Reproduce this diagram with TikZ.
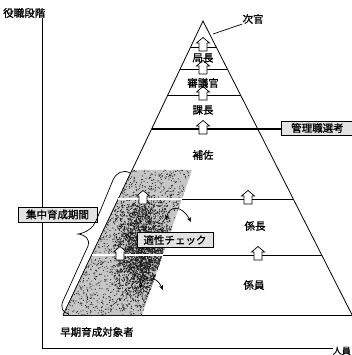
\documentclass[tikz,border=0pt]{standalone}
\usepackage{fontspec}
\setmainfont{Noto Sans CJK JP}[FakeBold=1.2]
\usetikzlibrary{arrows.meta}
\tikzset{
  lbl/.style={inner sep=0pt, font=\fontsize{10.5}{12}\selectfont},
  stipbox/.style={draw, line width=0.8pt, fill=gray!22, inner xsep=3pt, inner ysep=2pt, font=\fontsize{10.5}{12}\selectfont},
  level/.style={line width=0.8pt},
  uparr/.pic={\draw[fill=white, line width=0.7pt] (-4,5) -- (-4,-3) -- (-6.5,-3) -- (0,-8.5) -- (6.5,-3) -- (4,-3) -- (4,5) -- cycle;},
  dbl/.style={line width=0.7pt, {Stealth[length=5pt,width=4pt]}-{Stealth[length=5pt,width=4pt]}}
}
\begin{document}
\begin{tikzpicture}[x=1pt,y=-1pt]
\useasboundingbox (0,0) rectangle (351,355);
% axes
\node[lbl, anchor=west] (yl) at (3,13) {役職段階};
\node[lbl, anchor=south east, font=\fontsize{9}{10}\selectfont] (xl) at (351,355) {人員};
\coordinate (ytop) at (42.5,18);
\coordinate (orig) at (42.5,348.5);
\coordinate (xend) at (xl.west |- orig);
\draw[line width=1pt] (ytop) -- (orig) -- (xend);
% pyramid
\coordinate (apex) at (203,21);
\coordinate (bl) at (63.1,315);
\coordinate (br) at (352.1,315);
\draw[line width=0.8pt] (bl) -- (apex) -- (br);
\draw[line width=1pt] (bl) -- (br);
% level lines
\draw[level] (190.6,47) -- (216.2,47);
\draw[level] (180.2,69) -- (227.3,69);
\draw[level] (167.8,95) -- (240.5,95);
\node[stipbox, minimum height=14pt, minimum width=72pt, anchor=west] (kanri) at (281,128) {管理職選考};
\draw[line width=1.7pt] (151.6,129) -- (kanri.west |- 0,129);
\draw[line width=1pt] (182,199) -- (293.2,199);
\draw[line width=1pt] (162.7,255) -- (321.6,255);
% band
\coordinate (b1) at (132.1,170);
\coordinate (b2) at (192,170);
\coordinate (b3) at (142,315);
\coordinate (b4) at (63.1,315);
\pgfmathsetseed{7}
\begin{scope}
\clip (b1) -- (b2) -- (b3) -- (b4) -- cycle;
\fill[gray!45] (60,165) rectangle (200,320);
\foreach \i in {1,...,2600}{
  \pgfmathsetmacro\rx{60+140*rnd}
  \pgfmathsetmacro\ry{165+155*rnd}
  \fill[black!85] (\rx,\ry) circle (0.6);
}
\foreach \i in {1,...,2600}{
  \pgfmathsetmacro\rx{143+32*(rnd-rnd)}
  \pgfmathsetmacro\ry{250+60*(rnd-rnd)}
  \fill[black!90] (\rx,\ry) circle (0.65);
}
\end{scope}
\draw[line width=0.6pt] (b1) -- (b4);
\draw[white, line width=1.3pt] (118.3,199) -- (182,199);
\draw[white, line width=1.3pt] (91.6,255) -- (162.7,255);
% hollow arrows
\pic at (203,46) {uparr};
\pic at (203,69) {uparr};
\pic at (203,95) {uparr};
\pic at (203,129) {uparr};
\pic at (248,199) {uparr};
\pic at (258,255) {uparr};
\pic at (143,199) {uparr};
\pic at (120,255) {uparr};
% curved double arrows
\coordinate (ca1) at (166,220);
\coordinate (ca2) at (191,222);
\coordinate (cb1) at (140,289);
\coordinate (cb2) at (163,290);
\draw[dbl] (ca1) .. controls (169,205) and (182,205) .. (ca2);
\draw[dbl] (cb1) .. controls (143,275) and (156,275) .. (cb2);
% labels
\node[lbl] (jikan) at (253,19) {次官};
\coordinate (jk) at (213,34);
\draw[line width=0.7pt] (jk) -- (jikan.south west);
\node[lbl] (kyoku) at (203,58) {局長};
\node[lbl] (shingi) at (203,83) {審議官};
\node[lbl] (kacho) at (203,110) {課長};
\node[lbl] (hosa) at (203,155) {補佐};
\node[lbl] (kakaricho) at (255,226) {係長};
\node[lbl] (kakariin) at (254,285) {係員};
\node[lbl] (soki) at (97,332) {早期育成対象者};
\node[stipbox, minimum height=15pt, minimum width=76pt] (tekisei) at (175,240) {適性チェック};
\node[stipbox, minimum height=15pt, minimum width=79pt] (shuchu) at (57.5,214.5) {集中育成期間};
% brace
\draw[line width=0.7pt] (130,173) .. controls (123,169) and (116,173) .. (113,180)
  -- (96,221) .. controls (93,228) and (86,233) .. (78,234)
  .. controls (86,235) and (90,239) .. (88,246)
  -- (63,301) .. controls (60,308) and (63,313) .. (69,314);
\end{tikzpicture}
\end{document}
